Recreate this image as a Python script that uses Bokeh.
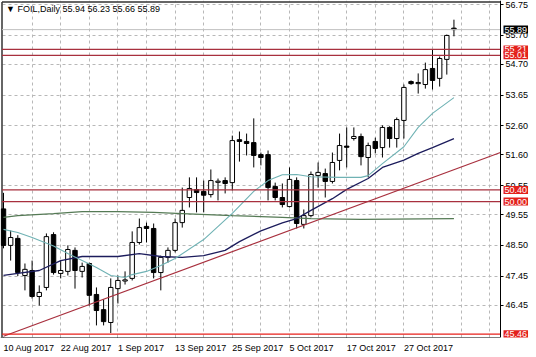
from bokeh.plotting import figure
from bokeh.models import Range1d, FixedTicker, Label, PrintfTickFormatter, ColumnDataSource, LinearAxis
from bokeh.embed import file_html
from bokeh.resources import INLINE

# ---- daily candles (bar index 0 = 10 Aug 2017) ----
opens = [49.75, 48.50, 48.74, 47.47, 47.64, 46.75, 47.06, 48.87, 47.54, 47.61,
         48.33, 47.61, 47.88, 46.82, 46.30, 45.86, 47.02, 47.28, 47.37, 48.60,
         49.15, 49.08, 47.57, 48.09, 48.33, 49.28, 50.14, 50.41, 50.35, 50.24,
         50.66, 50.72, 50.65, 52.12, 52.06, 52.02, 51.61, 51.61, 50.52, 50.14,
         49.83, 50.72, 49.22, 49.52, 50.89, 50.96, 50.69, 51.41, 51.90, 52.16,
         52.23, 51.51, 52.06, 51.85, 52.54, 52.16, 52.78, 54.11, 54.04, 54.01,
         54.56, 54.22, 54.87, 55.94]
highs = [50.30, 49.01, 48.85, 47.88, 47.98, 47.13, 48.91, 48.95, 47.98, 48.50,
         48.43, 47.91, 47.91, 47.06, 46.65, 47.37, 47.47, 47.61, 48.98, 49.42,
         49.28, 49.25, 48.15, 48.43, 49.42, 50.48, 50.83, 50.83, 50.72, 51.10,
         50.79, 50.83, 52.26, 52.40, 52.33, 52.85, 51.68, 51.75, 50.65, 50.62,
         51.17, 50.83, 49.73, 51.03, 51.34, 51.13, 51.68, 52.33, 52.54, 52.54,
         52.33, 52.02, 52.19, 52.61, 52.58, 52.88, 54.01, 54.15, 54.39, 54.76,
         55.21, 54.97, 55.72, 56.23]
lows = [48.40, 47.98, 47.45, 46.96, 46.68, 46.44, 46.96, 47.50, 47.37, 47.47,
        47.02, 47.40, 46.44, 45.76, 45.76, 45.50, 46.51, 47.16, 47.30, 48.53,
        48.60, 47.37, 46.96, 47.91, 48.26, 49.11, 49.80, 49.63, 49.63, 50.14,
        50.04, 50.28, 50.38, 51.37, 51.58, 51.17, 51.24, 50.04, 50.04, 49.80,
        49.80, 49.08, 49.08, 49.46, 50.48, 50.14, 50.62, 51.07, 51.17, 52.09,
        51.24, 50.83, 51.65, 51.51, 51.85, 51.85, 52.16, 54.00, 53.70, 53.87,
        53.84, 53.94, 54.35, 55.66]
closes = [48.50, 48.77, 47.57, 47.68, 46.75, 46.89, 48.80, 47.57, 47.64, 48.36,
          47.64, 47.78, 46.79, 46.27, 45.89, 47.06, 47.30, 47.32, 48.60, 49.11,
          49.08, 47.57, 48.09, 48.33, 49.28, 49.70, 50.45, 50.31, 50.22, 50.72,
          50.70, 50.62, 52.09, 52.06, 51.99, 51.58, 51.51, 50.48, 50.14, 49.90,
          50.76, 49.25, 49.52, 50.93, 51.00, 50.69, 51.34, 51.92, 51.86, 52.23,
          51.54, 51.92, 51.82, 52.54, 52.16, 52.81, 53.91, 54.04, 54.08, 54.52,
          54.15, 54.90, 55.69, 55.89]

# ---- axis tick labels ----
date_label_idx = [0, 8, 16, 24, 32, 40, 48, 56]
date_labels = ["10 Aug 2017", "22 Aug 2017", "1 Sep 2017", "13 Sep 2017",
               "25 Sep 2017", "5 Oct 2017", "17 Oct 2017", "27 Oct 2017"]
price_ticks = [56.75, 55.70, 54.70, 53.65, 52.60, 51.60, 50.55, 49.55, 48.50, 47.45, 46.45]

# ---- moving averages ----
ma_fast_idx = [0, 2, 4, 7, 9, 11, 13, 15, 17, 18, 20, 22, 24, 28, 32, 35, 37, 39, 41, 43, 47, 50, 51, 53, 56, 58, 60, 63]
ma_fast_val = [49.05, 48.94, 48.77, 48.48, 48.22, 47.98, 47.74, 47.47, 47.40, 47.50, 47.61, 47.81, 48.05, 48.70,
               49.60, 50.35, 50.72, 50.92, 50.93, 50.85, 50.83, 50.83, 50.89, 51.30, 51.88, 52.54, 53.02, 53.56]
ma_mid_idx = [0, 2, 5, 8, 11, 14, 16, 19, 22, 25, 28, 31, 33, 36, 39, 41, 43, 46, 48, 51, 53, 56, 58, 60, 63]
ma_mid_val = [47.47, 47.54, 47.64, 47.98, 48.12, 48.12, 48.12, 48.22, 48.12, 48.09, 48.15, 48.33, 48.63,
              49.00, 49.27, 49.42, 49.70, 50.10, 50.42, 50.79, 51.17, 51.42, 51.65, 51.85, 52.16]
ma_slow_idx = [0, 2, 7, 11, 16, 21, 25, 32, 39, 43, 50, 63]
ma_slow_val = [49.46, 49.52, 49.59, 49.66, 49.66, 49.63, 49.59, 49.52, 49.46, 49.42, 49.39, 49.42]

# ---- drawn objects ----
resist_levels = [55.21, 55.01]
support_levels = [50.40, 50.00]
low_level = 45.46
trend_idx = [0, 69.5]
trend_val = [45.39, 51.68]

# ---- geometry (pixel layout of the MT4 window) ----
FONT = "Liberation Sans"
W, H = 536, 357
BAR_PX = 7.15          # pixels per bar
BAR0_PX = 3.0          # pixel x of bar 0
PRICE_PX = 29.2        # pixels per price unit
TOP_PRICE, TOP_PX = 56.75, 4.0
FRAME_BOTTOM_PX = 337
AXIS_PX = 500          # price axis position

def px_to_i(px):
    return (px - BAR0_PX) / BAR_PX

def py_to_price(py):
    return TOP_PRICE - (py - TOP_PX) / PRICE_PX

X_START, X_END = px_to_i(0), px_to_i(W)
Y_START, Y_END = py_to_price(FRAME_BOTTOM_PX), py_to_price(0)
X_AX = px_to_i(AXIS_PX)
X_LB = px_to_i(1.5)
Y_TB = py_to_price(1.5)

n = len(opens)
idx = list(range(n))
src = ColumnDataSource(dict(
    x=idx,
    high=highs,
    low=lows,
    top=[max(o, c) for o, c in zip(opens, closes)],
    bottom=[min(o, c) for o, c in zip(opens, closes)],
    fill=["white" if c >= o else "black" for o, c in zip(opens, closes)],
))

p = figure(width=W, height=H, output_backend="svg", toolbar_location=None,
           x_range=Range1d(X_START, X_END), y_range=Range1d(Y_START, Y_END),
           x_axis_location=None, y_axis_location=None,
           min_border_left=0, min_border_right=0, min_border_top=0, min_border_bottom=H - FRAME_BOTTOM_PX)
p.background_fill_color = "white"
p.border_fill_color = "white"
p.outline_line_color = None

# price axis drawn at a fixed location, labels on its right
ya = LinearAxis(fixed_location=X_AX)
ya.ticker = FixedTicker(ticks=price_ticks)
ya.formatter = PrintfTickFormatter(format="%.2f")
ya.major_label_text_font = FONT
ya.major_label_text_font_size = "9px"
ya.major_label_text_color = "black"
ya.major_tick_in = 0
ya.major_tick_out = 3
ya.minor_tick_out = 0
ya.minor_tick_in = 0
ya.major_label_standoff = 2
ya.axis_line_color = "black"
ya.major_tick_line_color = "black"
p.add_layout(ya, "right")

# date axis: tick marks at the first bar of each label
xa_ticks = LinearAxis(fixed_location=Y_START, bounds=(X_START, X_AX))
xa_ticks.ticker = FixedTicker(ticks=date_label_idx)
xa_ticks.major_label_overrides = {i: "" for i in date_label_idx}
xa_ticks.major_tick_in = 0
xa_ticks.major_tick_out = 4
xa_ticks.minor_tick_out = 0
xa_ticks.minor_tick_in = 0
xa_ticks.axis_line_color = "black"
xa_ticks.major_tick_line_color = "black"
p.add_layout(xa_ticks, "below")

# date axis: labels start at their tick (MT4 style), so place each label's centre
CHAR_EM = {" ": 0.278, "A": 0.667, "S": 0.667, "O": 0.778, "u": 0.556, "g": 0.556,
           "e": 0.556, "p": 0.556, "c": 0.5, "t": 0.278}
def text_px(s, size=9):
    return sum(CHAR_EM.get(ch, 0.556) for ch in s) * size

label_pos = [i + text_px(t) / 2 / BAR_PX for i, t in zip(date_label_idx, date_labels)]
xa = LinearAxis()
xa.ticker = FixedTicker(ticks=label_pos)
xa.major_label_overrides = {pos: t for pos, t in zip(label_pos, date_labels)}
xa.major_label_text_font = FONT
xa.major_label_text_font_size = "9px"
xa.major_label_text_color = "black"
xa.major_tick_in = 0
xa.major_tick_out = 4
xa.minor_tick_out = 0
xa.minor_tick_in = 0
xa.major_label_standoff = 1
xa.axis_line_color = None
xa.major_tick_line_color = None
p.add_layout(xa, "below")

# grid
p.xgrid.visible = False
p.ygrid.visible = False
from bokeh.models import Grid
vgrid = Grid(dimension=0, ticker=FixedTicker(ticks=list(range(4, 70, 4))),
             grid_line_color="#b8b8b8", grid_line_dash="3 3")
hgrid = Grid(dimension=1, ticker=FixedTicker(ticks=price_ticks), cross_bounds=(X_LB, X_AX),
             grid_line_color="#b8b8b8", grid_line_dash="3 3")
p.add_layout(vgrid)
p.add_layout(hgrid)

# chart frame (left and top edges)
p.line([X_LB, X_LB], [Y_START, Y_TB], line_color="#333333", line_width=1.5)
p.line([X_LB, X_AX], [Y_TB, Y_TB], line_color="#333333", line_width=1.5)

# candles
p.segment(x0="x", y0="low", x1="x", y1="high", source=src, line_color="black", line_width=1)
p.vbar(x="x", top="top", bottom="bottom", width=0.62, source=src,
       fill_color="fill", line_color="black", line_width=1)

# moving averages
p.line(ma_slow_idx, ma_slow_val, line_color="#557a55", line_width=1.3)
p.line(ma_mid_idx, ma_mid_val, line_color="#1c1c5c", line_width=1.3)
p.line(ma_fast_idx, ma_fast_val, line_color="#6fb2b4", line_width=1.1)

# trend line
p.line(trend_idx, trend_val, line_color="#a8303e", line_width=1.2)

# horizontal levels
for lv in resist_levels + support_levels:
    p.line([X_LB, X_AX], [lv, lv], line_color="#a8303e", line_width=1.3)
p.line([X_LB, X_AX], [low_level, low_level], line_color="#e8201b", line_width=1.3)
p.line([X_LB, X_AX], [closes[-1], closes[-1]], line_color="#c0c0c0", line_width=1)

# price tags on the axis
def tag(y, text, bg):
    p.add_layout(Label(x=X_AX, y=y, x_offset=3, text=text, text_align="left",
                       text_baseline="middle", text_color="white", text_font=FONT,
                       text_font_size="9px", background_fill_color=bg,
                       background_fill_alpha=1.0, padding=1))

tag(closes[-1], f"{closes[-1]:.2f}", "black")
for lv in resist_levels + support_levels + [low_level]:
    tag(lv, f"{lv:.2f}", "#e3211c")

# title
title = f"\u25BC FOIL,Daily  {opens[-1]:.2f} {highs[-1]:.2f} {lows[-1]:.2f} {closes[-1]:.2f}"
p.add_layout(Label(x=X_LB, y=Y_TB, x_offset=4, y_offset=-2, text=title,
                   text_align="left", text_baseline="top", text_font=FONT,
                   text_font_size="9px", text_color="black"))

open("out.html", "w").write(file_html(p, INLINE))
